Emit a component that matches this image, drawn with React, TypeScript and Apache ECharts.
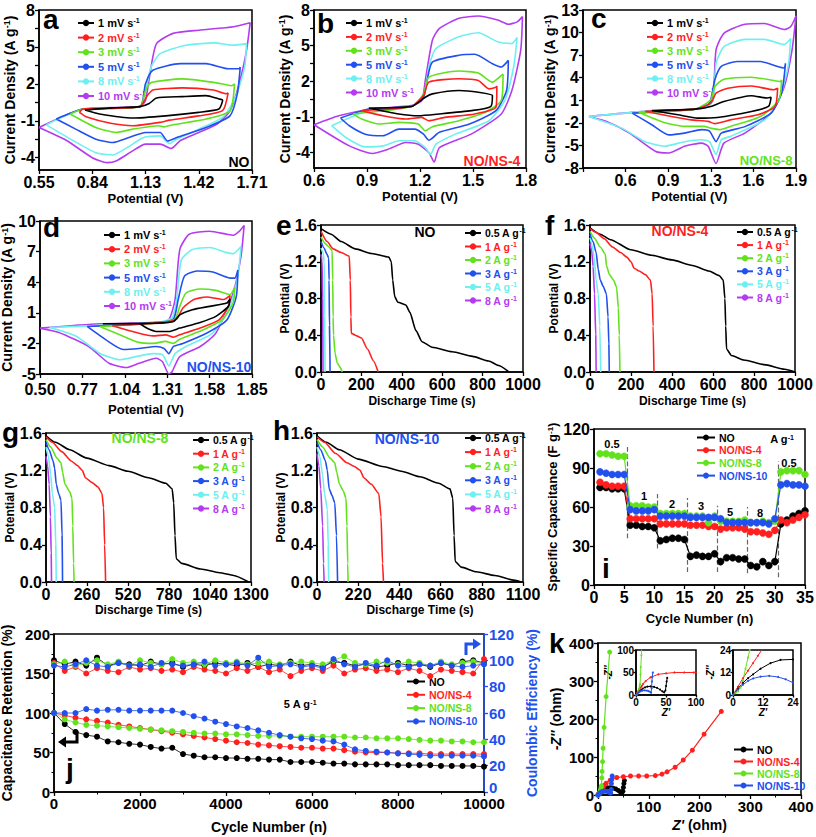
import React, { useEffect, useRef } from "react";
import * as echarts from "echarts";

type P = [number, number];
const FF = '"Liberation Sans", Arial, Helvetica, sans-serif';

const C_BLACK = "#000000";
const C_RED = "#ff1f1f";
const C_GREEN = "#62e21c";
const C_BLUE = "#2250ee";
const C_CYAN = "#6ef0f0";
const C_PURPLE = "#b43cf0";
const rateColors = [C_BLACK, C_RED, C_GREEN, C_BLUE, C_CYAN, C_PURPLE];
const sampleColors = [C_BLACK, C_RED, C_GREEN, C_BLUE];

const cvRates = ["1 mV s-1", "2 mV s-1", "3 mV s-1", "5 mV s-1", "8 mV s-1", "10 mV s-1"];
const currents = ["0.5 A g-1", "1 A g-1", "2 A g-1", "3 A g-1", "5 A g-1", "8 A g-1"];
const samples = ["NO", "NO/NS-4", "NO/NS-8", "NO/NS-10"];

// ---------- CV loops (potential V, current density A/g) ----------
const cvNO: P[][] = [
  [[0.80,-0.13],[0.95,0.05],[1.10,0.15],[1.15,0.40],[1.19,0.85],[1.33,0.96],[1.46,1.04],[1.53,0.77],[1.55,0.69],[1.53,-0.05],[1.42,-0.32],[1.24,-0.60],[1.06,-0.78],[0.88,-0.45],[0.80,-0.13]],
  [[0.77,-0.32],[0.79,-0.05],[1.10,0.15],[1.14,1.05],[1.17,1.50],[1.33,1.67],[1.50,1.50],[1.57,1.20],[1.58,1.25],[1.55,-0.18],[1.42,-0.60],[1.26,-0.95],[1.22,-1.10],[1.06,-1.40],[0.94,-1.20],[0.81,-0.70],[0.77,-0.32]],
  [[0.72,-0.45],[0.79,-0.05],[1.10,0.15],[1.13,1.45],[1.16,2.10],[1.33,2.40],[1.51,2.10],[1.60,1.85],[1.615,2.0],[1.59,-0.20],[1.46,-0.86],[1.28,-1.33],[1.23,-1.50],[1.20,-1.40],[1.06,-1.68],[0.97,-1.95],[0.86,-1.55],[0.72,-0.45]],
  [[0.644,-0.86],[0.79,-0.05],[1.10,0.15],[1.13,2.0],[1.17,3.1],[1.32,3.64],[1.46,3.64],[1.58,3.23],[1.64,3.23],[1.646,3.36],[1.63,1.18],[1.59,-0.60],[1.46,-1.55],[1.30,-2.36],[1.25,-2.64],[1.21,-1.95],[1.13,-1.95],[1.04,-2.36],[0.95,-2.77],[0.86,-2.50],[0.75,-1.68],[0.644,-0.86]],
  [[0.59,-1.33],[0.79,-0.05],[1.10,0.15],[1.13,1.45],[1.16,3.36],[1.21,4.45],[1.35,5.14],[1.51,5.33],[1.60,5.14],[1.68,5.27],[1.67,3.36],[1.62,0.90],[1.55,-0.73],[1.42,-1.68],[1.30,-2.50],[1.26,-2.85],[1.21,-2.23],[1.12,-2.36],[1.03,-3.18],[0.95,-3.78],[0.86,-3.60],[0.74,-2.64],[0.59,-1.33]],
  [[0.55,-1.55],[0.79,-0.05],[1.10,0.15],[1.13,0.64],[1.16,3.36],[1.19,5.27],[1.28,6.10],[1.42,6.36],[1.61,6.64],[1.70,6.96],[1.68,4.70],[1.64,2.00],[1.59,-0.20],[1.52,-1.27],[1.42,-1.95],[1.32,-2.60],[1.27,-3.25],[1.21,-2.90],[1.13,-2.90],[1.06,-3.45],[0.97,-4.27],[0.92,-4.40],[0.84,-4.00],[0.70,-2.60],[0.55,-1.55]],
];
const cvNS4: P[][] = [
  [[0.91,-0.25],[1.15,-0.13],[1.23,0.66],[1.27,0.94],[1.42,1.22],[1.53,1.08],[1.61,0.80],[1.60,-0.13],[1.49,-0.47],[1.31,-0.75],[1.19,-0.90],[1.08,-0.75],[0.91,-0.25]],
  [[0.87,-0.47],[1.15,-0.13],[1.22,0.80],[1.25,1.93],[1.42,2.21],[1.53,2.07],[1.59,1.36],[1.63,1.50],[1.635,1.60],[1.63,-0.19],[1.51,-0.75],[1.34,-1.04],[1.25,-1.32],[1.21,-1.04],[1.12,-1.18],[0.99,-0.90],[0.87,-0.47]],
  [[0.82,-0.75],[1.15,-0.13],[1.22,0.94],[1.25,2.35],[1.42,2.86],[1.53,2.69],[1.61,1.93],[1.66,2.49],[1.67,2.60],[1.66,0.38],[1.57,-0.61],[1.42,-1.32],[1.27,-1.83],[1.23,-2.17],[1.19,-1.60],[1.08,-1.46],[0.97,-1.60],[0.87,-1.18],[0.82,-0.75]],
  [[0.75,-1.09],[0.91,-0.33],[1.15,-0.13],[1.22,0.66],[1.24,2.07],[1.27,3.62],[1.42,4.19],[1.51,4.27],[1.61,3.48],[1.66,3.20],[1.70,3.76],[1.69,1.22],[1.63,-0.47],[1.48,-1.60],[1.31,-2.30],[1.25,-2.96],[1.22,-2.45],[1.17,-2.03],[1.08,-2.03],[0.99,-2.59],[0.89,-2.45],[0.80,-1.74],[0.75,-1.09]],
  [[0.70,-1.74],[0.93,-0.33],[1.15,-0.13],[1.22,0.66],[1.25,3.20],[1.29,4.75],[1.42,5.74],[1.53,6.08],[1.64,5.32],[1.72,5.18],[1.75,5.68],[1.73,3.20],[1.68,0.38],[1.59,-1.32],[1.40,-2.45],[1.29,-3.30],[1.26,-4.14],[1.23,-3.58],[1.17,-3.00],[1.08,-3.00],[0.99,-3.44],[0.89,-3.52],[0.78,-2.73],[0.70,-1.74]],
  [[0.60,-1.66],[0.74,-0.90],[0.93,-0.33],[1.15,-0.05],[1.21,0.38],[1.23,2.07],[1.27,5.46],[1.31,6.45],[1.42,7.30],[1.53,7.50],[1.64,7.15],[1.70,6.80],[1.75,7.00],[1.78,7.44],[1.77,4.60],[1.72,1.22],[1.66,-0.75],[1.49,-2.45],[1.31,-3.58],[1.28,-4.80],[1.25,-4.00],[1.19,-3.30],[1.12,-3.15],[1.02,-3.72],[0.93,-4.08],[0.80,-3.44],[0.60,-1.66]],
];
const cvNS8: P[][] = [
  [[0.80,-0.35],[1.13,-0.17],[1.25,0.18],[1.35,0.84],[1.56,1.60],[1.68,1.30],[1.71,1.40],[1.69,0.18],[1.56,-0.48],[1.30,-1.28],[1.15,-1.37],[1.00,-0.93],[0.80,-0.35]],
  [[0.75,-0.48],[1.13,-0.17],[1.25,0.62],[1.29,1.95],[1.38,2.60],[1.56,2.90],[1.73,2.40],[1.76,2.60],[1.74,0.18],[1.61,-0.93],[1.40,-1.60],[1.28,-2.10],[1.23,-1.80],[1.10,-1.60],[0.95,-1.15],[0.75,-0.48]],
  [[0.70,-0.60],[1.13,-0.17],[1.25,1.06],[1.28,2.80],[1.35,3.80],[1.56,4.07],[1.71,3.70],[1.78,3.50],[1.79,3.70],[1.77,1.06],[1.63,-1.15],[1.40,-2.47],[1.32,-2.90],[1.25,-2.70],[1.20,-2.47],[1.05,-2.47],[0.90,-2.00],[0.70,-0.60]],
  [[0.65,-0.70],[1.13,-0.17],[1.24,0.62],[1.28,3.70],[1.33,5.50],[1.45,6.15],[1.63,6.15],[1.76,5.50],[1.81,5.30],[1.82,5.90],[1.79,1.95],[1.71,-0.70],[1.51,-2.50],[1.33,-3.36],[1.29,-4.50],[1.24,-3.10],[1.18,-2.90],[1.05,-3.36],[0.93,-3.60],[0.80,-2.25],[0.65,-0.70]],
  [[0.32,-1.15],[0.75,-0.48],[1.13,-0.17],[1.23,0.18],[1.27,1.06],[1.29,5.90],[1.35,8.10],[1.51,9.10],[1.66,9.10],[1.81,8.40],[1.86,9.20],[1.84,5.50],[1.77,1.06],[1.66,-1.60],[1.40,-3.80],[1.33,-4.24],[1.29,-6.20],[1.24,-4.50],[1.18,-4.24],[1.05,-4.50],[0.90,-5.10],[0.75,-4.50],[0.57,-2.70],[0.32,-1.15]],
  [[0.32,-1.15],[0.75,-0.48],[1.13,-0.17],[1.23,0.18],[1.27,1.95],[1.29,7.70],[1.35,9.90],[1.51,11.10],[1.66,11.20],[1.81,10.40],[1.86,10.80],[1.90,12.20],[1.87,7.70],[1.81,2.80],[1.71,-0.70],[1.51,-3.36],[1.35,-4.70],[1.29,-7.40],[1.23,-5.10],[1.18,-4.70],[1.05,-5.10],[0.93,-6.00],[0.83,-5.80],[0.63,-3.36],[0.45,-1.80],[0.32,-1.15]],
];
const cvNS10: P[][] = [
  [[0.90,-0.08],[1.26,-0.01],[1.35,0.15],[1.39,0.80],[1.47,1.30],[1.58,1.63],[1.69,1.96],[1.71,2.35],[1.70,1.63],[1.62,0.65],[1.52,0.06],[1.39,-0.50],[1.32,-0.83],[1.24,-0.83],[1.18,-0.50],[1.13,-0.08],[0.90,-0.08]],
  [[0.96,-0.27],[1.29,0.06],[1.37,0.38],[1.41,1.47],[1.48,2.30],[1.56,2.55],[1.67,2.30],[1.71,2.68],[1.70,1.63],[1.64,0.30],[1.52,-0.50],[1.39,-1.16],[1.35,-1.39],[1.30,-1.16],[1.22,-1.26],[1.13,-1.00],[0.96,-0.27]],
  [[0.88,-0.34],[1.28,0.06],[1.36,0.38],[1.39,1.63],[1.43,2.94],[1.52,3.34],[1.62,3.20],[1.71,2.78],[1.74,3.53],[1.73,1.96],[1.66,0.30],[1.54,-0.66],[1.39,-1.60],[1.35,-2.00],[1.30,-1.80],[1.22,-2.00],[1.13,-1.90],[1.03,-1.30],[0.88,-0.34]],
  [[0.80,-0.34],[1.26,0.06],[1.35,0.38],[1.38,2.30],[1.42,4.60],[1.50,5.10],[1.60,5.00],[1.71,4.40],[1.74,4.40],[1.76,5.20],[1.75,2.60],[1.69,0.30],[1.56,-1.00],[1.41,-2.00],[1.35,-2.30],[1.32,-3.00],[1.29,-2.50],[1.24,-2.30],[1.13,-2.50],[1.03,-2.60],[0.92,-1.65],[0.80,-0.34]],
  [[0.56,-0.45],[1.24,0.06],[1.34,0.48],[1.37,2.30],[1.40,6.20],[1.47,7.20],[1.58,7.40],[1.69,6.90],[1.73,6.80],[1.78,7.50],[1.76,4.60],[1.71,1.60],[1.60,-1.00],[1.43,-2.30],[1.36,-3.00],[1.32,-4.20],[1.28,-3.10],[1.22,-3.00],[1.11,-3.30],[1.01,-3.60],[0.88,-2.96],[0.73,-1.30],[0.56,-0.45]],
  [[0.50,-0.50],[0.88,-0.08],[1.24,0.06],[1.32,0.32],[1.36,2.30],[1.39,7.20],[1.45,8.70],[1.58,9.00],[1.69,8.70],[1.73,8.60],[1.77,9.00],[1.80,9.57],[1.78,6.55],[1.73,2.94],[1.62,-1.00],[1.52,-2.30],[1.39,-3.30],[1.34,-4.80],[1.32,-4.98],[1.28,-3.80],[1.24,-3.46],[1.13,-3.95],[1.05,-4.37],[0.94,-3.95],[0.81,-2.30],[0.62,-0.93],[0.50,-0.50]],
];

// ---------- discharge curves (time s, potential V) ----------
const dcNO: P[][] = [
  [[0,1.56],[50,1.50],[100,1.42],[170,1.34],[250,1.29],[336,1.25],[348,1.20],[355,1.00],[365,0.82],[380,0.76],[420,0.73],[440,0.65],[470,0.45],[500,0.33],[550,0.27],[650,0.22],[750,0.17],[830,0.12],[880,0.07],[930,0.00]],
  [[0,1.53],[30,1.42],[60,1.34],[100,1.30],[140,1.26],[145,1.00],[148,0.60],[150,0.42],[180,0.39],[200,0.37],[230,0.25],[260,0.12],[283,0.00]],
  [[0,1.47],[20,1.40],[40,1.36],[55,1.32],[58,1.00],[60,0.60],[62,0.40],[70,0.20],[80,0.10],[95,0.05],[105,0.00]],
  [[0,1.42],[15,1.35],[30,1.28],[38,1.24],[40,1.00],[42,0.50],[45,0.00]],
  [[0,1.35],[10,1.30],[16,1.20],[18,0.60],[20,0.00]],
  [[0,1.28],[5,1.22],[8,0.80],[10,0.00]],
];
const dcNS4: P[][] = [
  [[0,1.57],[50,1.50],[100,1.44],[200,1.33],[300,1.27],[400,1.22],[500,1.16],[580,1.10],[630,1.05],[650,1.00],[658,0.80],[662,0.50],[666,0.25],[690,0.18],[750,0.13],[850,0.08],[950,0.03],[1000,0.00]],
  [[0,1.56],[30,1.52],[70,1.45],[110,1.36],[150,1.30],[180,1.25],[200,1.20],[215,1.13],[240,1.10],[270,1.06],[295,1.00],[303,0.85],[308,0.50],[312,0.00]],
  [[0,1.53],[20,1.46],[50,1.36],[75,1.28],[80,1.16],[95,1.06],[115,1.00],[130,0.92],[138,0.70],[143,0.40],[146,0.00]],
  [[0,1.50],[15,1.42],[30,1.30],[40,1.12],[50,1.00],[65,0.93],[80,0.85],[88,0.60],[92,0.30],[94,0.00]],
  [[0,1.46],[10,1.38],[20,1.25],[30,1.00],[40,0.85],[48,0.50],[52,0.00]],
  [[0,1.40],[8,1.32],[15,1.15],[22,0.85],[28,0.40],[30,0.00]],
];
const dcNS8: P[][] = [
  [[0,1.57],[60,1.50],[150,1.42],[260,1.33],[400,1.25],[520,1.19],[650,1.12],[760,1.06],[800,1.00],[810,0.85],[818,0.50],[826,0.25],[860,0.20],[980,0.14],[1100,0.10],[1190,0.07],[1285,0.00]],
  [[0,1.56],[40,1.50],[100,1.40],[160,1.30],[200,1.25],[230,1.20],[250,1.12],[290,1.07],[330,1.02],[355,0.95],[365,0.80],[372,0.40],[378,0.00]],
  [[0,1.53],[30,1.45],[70,1.33],[95,1.28],[105,1.18],[120,1.05],[150,0.97],[165,0.90],[170,0.60],[175,0.20],[178,0.00]],
  [[0,1.50],[20,1.42],[45,1.30],[55,1.22],[65,1.05],[80,0.95],[95,0.88],[102,0.50],[105,0.00]],
  [[0,1.45],[15,1.35],[30,1.15],[40,0.95],[55,0.80],[62,0.40],[65,0.00]],
  [[0,1.35],[10,1.25],[20,1.05],[28,0.70],[33,0.30],[35,0.00]],
];
const dcNS10: P[][] = [
  [[0,1.57],[50,1.50],[120,1.42],[220,1.32],[350,1.24],[450,1.19],[550,1.13],[650,1.06],[710,1.00],[725,0.90],[732,0.50],[738,0.22],[770,0.16],[850,0.11],[950,0.07],[1050,0.02],[1090,0.00]],
  [[0,1.56],[40,1.50],[100,1.38],[160,1.28],[200,1.24],[230,1.20],[250,1.12],[290,1.05],[330,0.95],[342,0.70],[350,0.20],[355,0.00]],
  [[0,1.53],[30,1.45],[70,1.33],[95,1.28],[105,1.18],[120,1.05],[140,0.98],[155,0.90],[160,0.60],[164,0.20],[166,0.00]],
  [[0,1.50],[20,1.42],[45,1.30],[55,1.20],[65,1.00],[80,0.93],[95,0.85],[104,0.50],[110,0.00]],
  [[0,1.45],[15,1.35],[30,1.15],[40,0.95],[55,0.78],[60,0.40],[62,0.00]],
  [[0,1.38],[10,1.25],[20,1.00],[30,0.60],[35,0.20],[38,0.00]],
];

// ---------- rate capability ----------
const cycles = [1,2,3,4,5,6,7,8,9,10,11,12,13,14,15,16,17,18,19,20,21,22,23,24,25,26,27,28,29,30,31,32,33,34,35];
const rateNO = [75,75,74,74,74,46,46,45,45,44,34,35,36,36,35,22,23,22,22,24,18,21,21,20,20,15,14,18,15,18,47,50,53,55,57];
const rateNS4 = [79,77,76,76,76,51,51,51,51,51,47,47,47,47,47,46,46,46,45,45,43,44,44,44,43,41,41,40,39,42,50,48,50,52,54];
const rateNS8 = [101,101,100,99,99,61,61,61,60,60,55,55,55,55,55,53,53,53,48,53,49,49,49,49,50,48,48,49,48,49,87,88,88,88,85];
const rateNS10 = [87,86,85,85,85,58,57,57,57,58,53,53,53,53,53,52,52,52,52,52,51,48,48,48,48,48,48,48,47,51,77,78,77,77,76];
const rateDividers: [number, number, number][] = [[5.5,36,108],[10.5,28,70],[15.5,10,67],[20.5,10,61],[25.5,9,60],[30.5,6,95]];
const rateLabels: [string, number, number][] = [["0.5",612,444],["1",644,496],["2",672,504],["3",701,506],["5",730,512],["8",760,513],["0.5",789,463]];

// ---------- cycling ----------
const cycleNum = [0,250,500,750,1000,1250,1500,1750,2000,2250,2500,2750,3000,3250,3500,3750,4000,4250,4500,4750,5000,5250,5500,5750,6000,6250,6500,6750,7000,7250,7500,7750,8000,8250,8500,8750,9000,9250,9500,9750,10000];
const retNO = [100,86,76,72,70,64,63,61,60,57,55,56,48,46,44,44,43,43,42,42,41,41,38,38,38,37,36,36,35,35,35,35,34,34,34,34,33,33,33,33,32];
const retNS4 = [100,97,94,92,90,88,85,83,81,79,77,75,73,71,69,67,65,63,62,60,59,58,57,56,56,55,55,53,51,50,50,50,49,49,49,48,48,48,48,48,48];
const retNS8 = [100,92,88,85,84,83,82,81,80,79,78,77,76,75,74,74,73,73,72,71,71,71,70,70,70,70,70,70,69,69,68,68,68,67,66,65,65,64,64,63,63];
const retNS10 = [100,100,100,105,103,104,104,103,103,103,103,103,100,96,93,89,86,83,81,78,75,72,70,68,67,65,64,60,54,52,51,50,49,48,47,46,46,46,46,46,45];
const ceNO = [100,97,99,96,102,96,98,97,96,99,97,98,95,97,96,98,97,96,98,95,97,96,99,96,97,95,99,98,96,97,95,96,98,96,97,95,98,96,99,100,98];
const ceNS4 = [98,92,95,90,94,92,91,95,93,94,92,93,91,95,93,92,90,94,92,95,91,93,88,92,94,92,96,90,93,94,92,93,91,94,92,88,93,92,91,90,101];
const ceNS8 = [97,99,96,98,100,97,99,96,100,98,97,101,98,99,97,100,98,99,97,98,99,97,98,99,98,97,100,103,98,97,99,98,97,99,98,96,99,97,98,99,97];
const ceNS10 = [96,95,97,100,96,95,98,96,97,95,98,97,96,97,99,96,97,98,96,102,95,96,97,95,96,94,101,97,95,98,96,100,96,95,97,96,98,96,95,96,97];

// ---------- Nyquist ----------
const eisNO: P[] = [[0,0],[2,3.5],[4,6.5],[6,9],[8,11],[11,14],[15,17],[19,18.7],[24,19],[30,18],[35,16],[40,12],[44,8],[47,6],[49,10],[50,20],[51,30],[52,38]];
const eisNS4: P[] = [[0,0],[2,4.5],[4,9],[6,13],[8,17],[10,21],[12,25],[16,31],[24,39],[37,46],[50,48],[64,50],[80,50],[96,50],[113,51],[126,55],[136,61],[152,73],[168,92],[186,118],[209,160],[243,220]];
const eisNS8: P[] = [[0,0],[1,1],[2,2],[3,4],[4,8],[5,14],[6,20],[6.7,24],[7.5,45],[8,62],[9,88],[10,123],[12,178],[16,259],[23,376]];
const eisNS10: P[] = [[0,0],[2,3],[4,5.5],[6,7.5],[8,8.8],[11,9.8],[14.5,10.2],[18,9.6],[21,8.4],[24,6.6],[25,5],[26,15],[26.5,30],[27,40],[28,50]];

// ---------- layout ----------
const gridBoxes: [number, number, number, number][] = [
  [39, 10, 213, 160], [314, 10, 212, 158], [583, 10, 213, 158],
  [40, 221, 212, 153], [321, 225, 202, 147], [590, 225, 205, 147],
  [46, 433, 205, 149], [317, 433, 206, 149], [594, 429, 211, 156],
  [54, 634, 430, 158], [598, 643, 203, 152], [636, 650, 60, 45], [733, 650, 60, 45],
];

function rich(size: number, color: string) {
  return {
    n: { fontSize: size, fontWeight: "bold", fontFamily: FF, color },
    s: { fontSize: Math.round(size * 0.65), fontWeight: "bold", fontFamily: FF, color, verticalAlign: "top" },
    i: { fontSize: size, fontWeight: "bold", fontStyle: "italic", fontFamily: FF, color },
  };
}

function vAxis(gi: number, min: number, max: number, interval: number | null, o: any = {}) {
  const color = o.color || "#000";
  const nfs = o.nfs ?? 12;
  const fs = o.fs ?? 16;
  const ax: any = {
    type: "value", gridIndex: gi, min, max,
    axisLine: { show: true, onZero: false, lineStyle: { color, width: 1.5 } },
    axisTick: { show: true, length: o.tickLen ?? 4, lineStyle: { color, width: 1.3 } },
    minorTick: { show: !!o.minor, splitNumber: o.minor || 2, length: 2.5, lineStyle: { color, width: 1 } },
    axisLabel: {
      color, fontSize: fs, fontWeight: "bold", fontFamily: FF, margin: o.margin ?? 4,
      formatter: o.fmt || ((v: number) => String(v)),
      rich: { z: { color, fontSize: fs, fontWeight: "bold", fontFamily: FF, padding: [0, 0, 10, 0] } },
    },
    splitLine: { show: false },
    nameLocation: "middle",
    nameGap: o.gap ?? 20,
    nameTextStyle: { color, fontSize: nfs, fontWeight: "bold", fontFamily: FF, rich: rich(nfs, color) },
  };
  if (interval != null) ax.interval = interval;
  if (o.labelValues) ax.axisLabel.customValues = o.labelValues;
  if (o.tickValues) ax.axisTick.customValues = o.tickValues;
  if (o.name) ax.name = o.name;
  if (o.position) ax.position = o.position;
  if (o.nameRotate != null) ax.nameRotate = o.nameRotate;
  return ax;
}

const f1 = (v: number) => v.toFixed(1);
const f2 = (v: number) => v.toFixed(2);
const fRaise0 = (v: number) => (v === 0 ? "{z|0}" : String(v));

function legendCfg(names: string[], colors: string[], left: number, top: number, fs: number, lh: number, gap: number, iw: number, ih: number) {
  return {
    left, top, orient: "vertical", itemGap: gap, itemWidth: iw, itemHeight: ih, padding: 0,
    selectedMode: false,
    data: names.map((n, i) => ({ name: n, textStyle: { color: colors[i] } })),
    formatter: (n: string) => {
      const m = n.match(/^(.*?)(-1)$/);
      return m ? `{n|${m[1]}}{s|${m[2]}}` : `{n|${n}}`;
    },
    textStyle: {
      fontFamily: FF, fontWeight: "bold", fontSize: fs, padding: [0, 0, 0, -1],
      rich: {
        n: { fontSize: fs, fontWeight: "bold", fontFamily: FF, lineHeight: lh },
        s: { fontSize: Math.round(fs * 0.65), fontWeight: "bold", fontFamily: FF, verticalAlign: "top", lineHeight: lh },
      },
    },
  };
}

function txt(x: number, y: number, text: string, size: number, color: string, align = "center") {
  return {
    type: "text", x, y, z: 200, silent: true,
    style: {
      text, fill: color, fontSize: size, fontWeight: "bold", fontFamily: FF,
      textAlign: align, textVerticalAlign: "middle", rich: rich(size, color),
    },
  };
}

function buildOption() {
  const grid = gridBoxes.map(([l, t, w, h], i) => ({
    left: l, top: t, width: w, height: h, show: true,
    borderColor: "#000", borderWidth: 1.5,
    backgroundColor: i >= 11 ? "#fff" : "transparent",
    containLabel: false, outerBoundsMode: "none",
  }));

  const yTick5 = [-4, -2.5, -1, 0.5, 2, 3.5, 5, 6.5, 8];
  const cdName = "{n|Current Density (A g}{s|-1}{n|)}";
  const xAxis = [
    vAxis(0, 0.55, 1.71, 0.29, { fmt: f2, name: "Potential (V)", gap: 22, nfs: 13 }),
    vAxis(1, 0.6, 1.8, 0.3, { fmt: f1, name: "Potential (V)", gap: 22, nfs: 13 }),
    vAxis(2, 0.275, 1.9, 0.325, { fmt: f1, labelValues: [0.6, 0.925, 1.25, 1.575, 1.9], tickValues: [0.275, 0.6, 0.925, 1.25, 1.575, 1.9], name: "Potential (V)", gap: 22, nfs: 13 }),
    vAxis(3, 0.5, 1.85, 0.27, { fmt: f2, name: "Potential (V)", gap: 29, margin: 7, nfs: 13 }),
    vAxis(4, 0, 1000, 200, { name: "Discharge Time (s)", gap: 23 }),
    vAxis(5, 0, 1000, 200, { name: "Discharge Time (s)", gap: 23 }),
    vAxis(6, 0, 1300, 260, { name: "Discharge Time (s)", gap: 22 }),
    vAxis(7, 0, 1100, 220, { name: "Discharge Time (s)", gap: 22 }),
    vAxis(8, 0, 35, 5, { name: "Cycle Number (n)", gap: 27, nfs: 13 }),
    vAxis(9, 0, 10000, 2000, { fs: 15, minor: 2, name: "Cycle Number (n)", gap: 28, nfs: 14 }),
    vAxis(10, 0, 400, 100, { fs: 15, minor: 2, name: "{i|Z'}{n| (ohm)}", gap: 23, nfs: 14 }),
    vAxis(11, 0, 100, 50, { fs: 10, margin: 2, tickLen: 2.5, nfs: 10, name: "{i|Z'}", gap: 11 }),
    vAxis(12, 0, 24, 12, { fs: 10, margin: 2, tickLen: 2.5, nfs: 10, name: "{i|Z'}", gap: 11 }),
  ];
  const yAxis = [
    vAxis(0, -5, 8, null, { labelValues: [-4, -1, 2, 5, 8], tickValues: yTick5, name: cdName, gap: 20, nfs: 14 }),
    vAxis(1, -5.3, 8, null, { labelValues: [-4, -1, 2, 5, 8], tickValues: yTick5, name: cdName, gap: 21, nfs: 14 }),
    vAxis(2, -8, 13, 3, { name: cdName, gap: 21, nfs: 14 }),
    vAxis(3, -5, 10, 3, { name: cdName, gap: 22, nfs: 14 }),
    vAxis(4, 0, 1.6, 0.4, { fmt: f1, name: "Potential (V)", gap: 30 }),
    vAxis(5, 0, 1.6, 0.4, { fmt: f1, name: "Potential (V)", gap: 30 }),
    vAxis(6, 0, 1.6, 0.4, { fmt: f1, name: "Potential (V)", gap: 30 }),
    vAxis(7, 0, 1.6, 0.4, { fmt: f1, name: "Potential (V)", gap: 29 }),
    vAxis(8, 0, 120, 30, { name: "{n|Specific Capacitance (F g}{s|-1}{n|)}", gap: 34, nfs: 13 }),
    vAxis(9, 0, 200, 50, { fs: 15, minor: 2, name: "Capacitance Retention (%)", gap: 37, nfs: 14 }),
    vAxis(10, 0, 400, 100, { fs: 15, minor: 2, name: "{i|-Z''}{n| (ohm)}", gap: 35, nfs: 14 }),
    vAxis(11, 0, 100, 50, { fs: 10, margin: 2, tickLen: 2.5, nfs: 10, name: "{i|-Z''}", gap: 13 }),
    vAxis(12, 0, 24, 12, { fs: 10, margin: 2, tickLen: 2.5, nfs: 10, name: "{i|-Z''}", gap: 13 }),
    vAxis(9, 0, 120, 20, { fs: 15, color: C_BLUE, position: "right", name: "Coulombic Efficiency (%)", gap: 41, nameRotate: 90, nfs: 14, margin: 5, fmt: fRaise0 }),
  ];

  const series: any[] = [];
  const cvSets = [cvNO, cvNS4, cvNS8, cvNS10];
  cvSets.forEach((set, gi) =>
    set.forEach((d, k) =>
      series.push({
        type: "line", name: cvRates[k], data: d, xAxisIndex: gi, yAxisIndex: gi,
        symbol: "none", smooth: 0.2, lineStyle: { color: rateColors[k], width: 1.6 },
        itemStyle: { color: rateColors[k] }, z: 10 - k,
      })
    )
  );
  const dcSets = [dcNO, dcNS4, dcNS8, dcNS10];
  dcSets.forEach((set, j) =>
    set.forEach((d, k) =>
      series.push({
        type: "line", name: currents[k], data: d, xAxisIndex: 4 + j, yAxisIndex: 4 + j,
        symbol: "none", smooth: 0.2, smoothMonotone: "x",
        lineStyle: { color: rateColors[k], width: 1.6 }, itemStyle: { color: rateColors[k] },
      })
    )
  );
  const rateSets = [rateNO, rateNS4, rateNS8, rateNS10];
  rateSets.forEach((arr, k) => {
    const s: any = {
      type: "line", name: samples[k], data: cycles.map((c, i) => [c, arr[i]]),
      xAxisIndex: 8, yAxisIndex: 8, symbol: "circle", symbolSize: 7,
      lineStyle: { color: sampleColors[k], width: 1.2 },
      itemStyle: { color: sampleColors[k], borderColor: sampleColors[k], borderWidth: 0.5 },
      z: 5 + k,
    };
    if (k === 0) {
      s.markLine = {
        silent: true, symbol: ["none", "none"], label: { show: false },
        lineStyle: { color: "#666", type: "dashed", width: 1.2 },
        data: rateDividers.map(([x, a, b]) => [{ coord: [x, a] }, { coord: [x, b] }]),
      };
    }
    series.push(s);
  });
  const retSets = [retNO, retNS4, retNS8, retNS10];
  const ceSets = [ceNO, ceNS4, ceNS8, ceNS10];
  retSets.forEach((arr, k) =>
    series.push({
      type: "line", name: samples[k], data: cycleNum.map((c, i) => [c, arr[i]]),
      xAxisIndex: 9, yAxisIndex: 9, symbol: "circle", symbolSize: 6,
      lineStyle: { color: sampleColors[k], width: 0.8 },
      itemStyle: { color: sampleColors[k] }, z: 5 + k,
    })
  );
  ceSets.forEach((arr, k) =>
    series.push({
      type: "line", name: samples[k] + " CE", data: cycleNum.map((c, i) => [c, arr[i]]),
      xAxisIndex: 9, yAxisIndex: 13, symbol: "circle", symbolSize: 6,
      lineStyle: { color: sampleColors[k], width: 0.8 },
      itemStyle: { color: sampleColors[k] }, z: 5 + k,
    })
  );
  const eisSets = [eisNO, eisNS4, eisNS8, eisNS10];
  [10, 11, 12].forEach((gi) =>
    eisSets.forEach((d, k) =>
      series.push({
        type: "line", name: samples[k], data: d, xAxisIndex: gi, yAxisIndex: gi,
        symbol: "circle", symbolSize: gi === 10 ? 5 : 2, clip: true,
        lineStyle: { color: sampleColors[k], width: gi === 10 ? 1.2 : 1 },
        itemStyle: { color: sampleColors[k] }, z: gi === 10 ? 5 : 20,
      })
    )
  );

  const legend = [
    legendCfg(cvRates, rateColors, 77, 17, 11, 12, 3.1, 16, 8),
    legendCfg(cvRates, rateColors, 345, 17, 11, 12, 2.4, 16, 8),
    legendCfg(cvRates, rateColors, 646, 17, 11, 12, 2.4, 16, 8),
    legendCfg(cvRates, rateColors, 103, 229, 11, 12, 2.7, 16, 8),
    legendCfg(currents, rateColors, 464, 227, 10.5, 12, 2, 16, 8),
    legendCfg(currents, rateColors, 736, 226, 10.5, 12, 1.6, 16, 8),
    legendCfg(currents, rateColors, 192, 434, 10.5, 12, 2.2, 16, 8),
    legendCfg(currents, rateColors, 464, 432, 10.5, 12, 2.6, 16, 8),
    legendCfg(samples, sampleColors, 696, 432, 10.5, 11, 1.7, 18, 5),
    legendCfg(samples, sampleColors, 406, 676, 10.5, 11, 2.3, 18, 5),
    legendCfg(samples, sampleColors, 733, 744, 10.5, 11, 1, 19, 5),
  ];

  const letters: [string, number, number][] = [
    ["a", 43, 19], ["b", 317, 23], ["c", 591, 18], ["d", 43, 227], ["e", 276, 225], ["f", 545, 225],
    ["g", 2, 432], ["h", 273, 430], ["i", 602, 568], ["j", 66, 768], ["k", 549, 643],
  ];
  const graphic: any[] = [
    ...letters.map(([t, x, y]) => txt(x, y, t, 28, "#000", "left")),
    txt(239, 162, "NO", 14, C_BLACK),
    txt(492, 161, "NO/NS-4", 14, C_RED),
    txt(766, 160, "NO/NS-8", 13, C_GREEN),
    txt(219, 367, "NO/NS-10", 14, C_BLUE),
    txt(425, 232, "NO", 14, C_BLACK),
    txt(680, 231, "NO/NS-4", 14, C_RED),
    txt(140, 438, "NO/NS-8", 14, C_GREEN),
    txt(407, 439, "NO/NS-10", 14, C_BLUE),
    ...rateLabels.map(([t, x, y]) => txt(x, y, t, 11, "#000")),
    txt(782, 439, "{n|A g}{s|-1}", 11, "#000"),
    txt(300, 704, "{n|5 A g}{s|-1}", 11, "#000"),
    {
      type: "polyline", z: 200, silent: true,
      shape: { points: [[77, 731], [77, 742], [65, 742]] },
      style: { stroke: "#000", lineWidth: 3, fill: null },
    },
    {
      type: "polygon", z: 200, silent: true,
      shape: { points: [[58, 742], [66, 736.5], [66, 747.5]] },
      style: { fill: "#000" },
    },
    {
      type: "polyline", z: 200, silent: true,
      shape: { points: [[466, 655], [466, 644], [474, 644]] },
      style: { stroke: C_BLUE, lineWidth: 3, fill: null },
    },
    {
      type: "polygon", z: 200, silent: true,
      shape: { points: [[481, 644], [473, 638.5], [473, 649.5]] },
      style: { fill: C_BLUE },
    },
  ];

  return {
    animation: false,
    backgroundColor: "#fff",
    textStyle: { fontFamily: FF },
    grid, xAxis, yAxis, series, legend, graphic,
  };
}

export default function App() {
  const ref = useRef<HTMLDivElement>(null);
  useEffect(() => {
    if (!ref.current) return;
    const chart = echarts.init(ref.current, null, { renderer: "svg" });
    chart.setOption(buildOption() as any);
    return () => chart.dispose();
  }, []);
  return (
    <div
      ref={ref}
      style={{ position: "fixed", left: 0, top: 0, width: 816, height: 837, background: "#fff" }}
    />
  );
}
